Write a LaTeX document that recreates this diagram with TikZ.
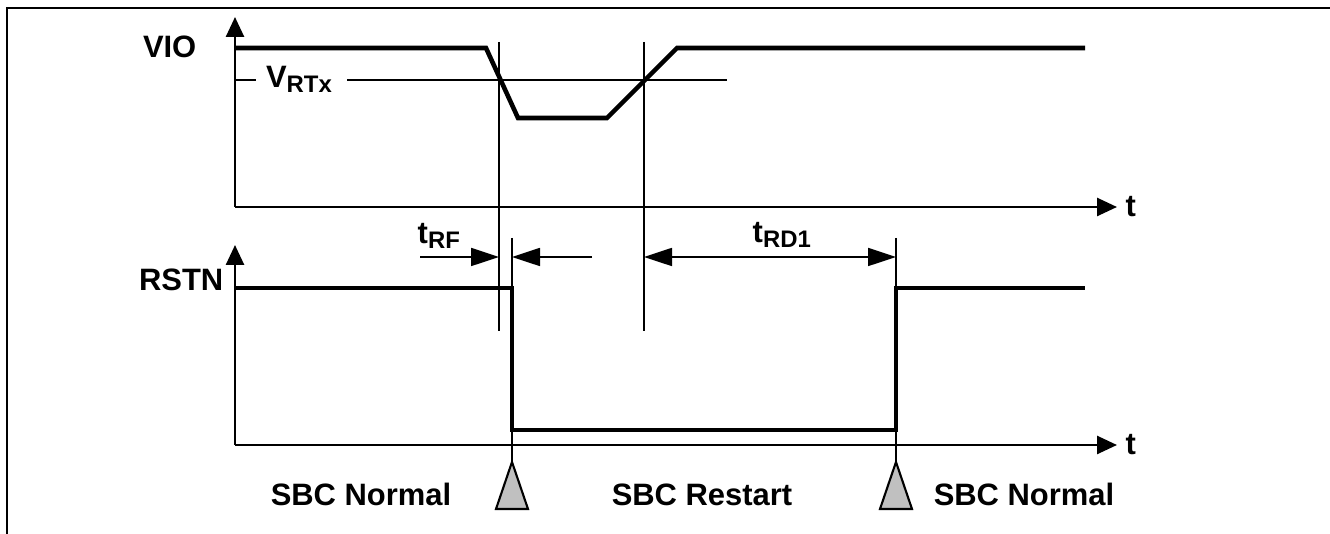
\documentclass[tikz,border=0pt]{standalone}
\usepackage{fontspec}
\setmainfont{Liberation Sans}
\usetikzlibrary{arrows.meta, positioning, calc}
\definecolor{MarkGray}{RGB}{192, 192, 192}
\newcommand{\lowidx}[1]{\raisebox{-0.3ex}{\fontsize{6.8}{7}\selectfont #1}}

\begin{document}
\begin{tikzpicture}[font=\fontsize{8.8}{10}\selectfont\bfseries,
    axis/.style={line width=0.75pt, -{Triangle[length=2mm, width=1.8mm]}},
    signal/.style={line width=1.3pt, line join=miter},
    guide/.style={line width=0.4pt},
    dim/.style={line width=0.5pt, -{Triangle[length=2.8mm, width=1.8mm]}},
    dimboth/.style={line width=0.5pt, {Triangle[length=2.8mm, width=1.8mm]}-{Triangle[length=2.8mm, width=1.8mm]}},
    marker/.style={line width=0.6pt, fill=MarkGray, line join=miter},
    lbl/.style={inner sep=0pt}]
    \useasboundingbox (0,0) rectangle (13.30,5.34);

    % Rahmen
    \draw[line width=0.6pt] (0.07,0) -- (0.07,5.26) -- (13.30,5.26);

    % VIO
    \coordinate (vo) at (2.35,3.27);
    \draw[axis] (vo) -- (2.35,5.17);
    \draw[axis] (vo) -- (11.17,3.27);
    \node[lbl, anchor=base east] (vio) at (1.97,4.76) {VIO};
    \node[lbl, anchor=base west] (tvio) at (11.25,3.17) {t};
    \draw[signal] (2.35,4.86) -- (4.86,4.86) -- (5.18,4.16) -- (6.07,4.16) -- (6.77,4.86) -- (10.85,4.86);

    % Schwelle V_RTx
    \node[lbl, anchor=base] (vrtx) at (2.99,4.46) {V\lowidx{RTx}};
    \draw[guide] (2.35,4.54) -- (2.56,4.54);
    \draw[guide] (3.47,4.54) -- (7.27,4.54);

    % Hilfslinien
    \coordinate (cross1) at (4.99,4.92);
    \coordinate (cross2) at (6.44,4.92);
    \draw[guide] (cross1) -- (4.99,2.03);
    \draw[guide] (cross2) -- (6.44,2.03);

    % RSTN
    \coordinate (ro) at (2.35,0.89);
    \draw[axis] (ro) -- (2.35,2.89);
    \draw[axis] (ro) -- (11.17,0.89);
    \node[lbl, anchor=base east] (rstn) at (2.24,2.43) {RSTN};
    \node[lbl, anchor=base west] (trstn) at (11.25,0.79) {t};
    \draw[signal] (2.35,2.46) -- (5.12,2.46) -- (5.12,1.04) -- (8.96,1.04) -- (8.96,2.46) -- (10.85,2.46);

    \coordinate (rf) at (5.12,2.96);
    \coordinate (rd) at (8.96,2.96);
    \draw[guide] (rf) -- (5.12,2.46);
    \draw[guide] (rd) -- (8.96,2.46);
    \draw[guide] (5.12,1.04) -- (5.12,0.72);
    \draw[guide] (8.96,1.04) -- (8.96,0.72);

    % Zeiten
    \draw[dim] (4.20,2.77) -- (4.99,2.77);
    \draw[dim] (5.92,2.77) -- (5.12,2.77);
    \node[lbl, anchor=base west] (trf) at (4.17,2.90) {t\lowidx{RF}};
    \draw[dimboth] (6.44,2.77) -- (8.96,2.77);
    \node[lbl, anchor=base west] (trd) at (7.52,2.91) {t\lowidx{RD1}};

    % Zustaende
    \draw[marker] (5.12,0.72) -- (4.96,0.25) -- (5.28,0.25) -- cycle;
    \draw[marker] (8.96,0.72) -- (8.80,0.25) -- (9.12,0.25) -- cycle;
    \node[lbl, anchor=base] (norm1) at (3.61,0.28) {SBC Normal};
    \node[lbl, anchor=base] (restart) at (7.02,0.28) {SBC Restart};
    \node[lbl, anchor=base] (norm2) at (10.24,0.28) {SBC Normal};
\end{tikzpicture}
\end{document}
